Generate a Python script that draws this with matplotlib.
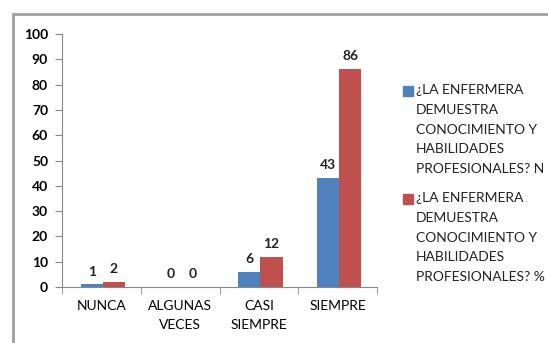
import matplotlib.pyplot as plt
from matplotlib.patches import Rectangle
import numpy as np

categorias = ['NUNCA', 'ALGUNAS\nVECES', 'CASI\nSIEMPRE', 'SIEMPRE']
valores_n = [1, 0, 6, 43]
valores_pct = [2, 0, 12, 86]
series = ['¿LA ENFERMERA\nDEMUESTRA\nCONOCIMIENTO Y\nHABILIDADES\nPROFESIONALES? N',
          '¿LA ENFERMERA\nDEMUESTRA\nCONOCIMIENTO Y\nHABILIDADES\nPROFESIONALES? %']
colores = ['#4F81BD', '#C0504D']

W, H = 548, 343
plt.rcParams['font.family'] = ['Lato', 'DejaVu Sans']
fs = 10
gris = '#868686'

fig = plt.figure(figsize=(W / 100, H / 100), dpi=100)

def fx(x):
    return x / W

def fy(y):
    return 1 - y / H

# marco exterior del grafico
fig.patches.append(Rectangle((fx(13), fy(400)), fx(600), fy(14) - fy(400),
                             transform=fig.transFigure, fill=False,
                             edgecolor='#A0A0A0', linewidth=2))

ax = fig.add_axes([fx(62), fy(287), fx(377) - fx(62), fy(34) - fy(287)])
x = np.arange(len(categorias))
ancho = 0.28
for i, (vals, col) in enumerate(zip([valores_n, valores_pct], colores)):
    pos = x + (i - 0.5) * ancho + 0.02
    barras = ax.bar(pos, vals, ancho, color=col)
    for b, v in zip(barras, vals):
        ax.annotate(str(v), (b.get_x() + b.get_width() / 2, v),
                    xytext=(0, 5), textcoords='offset points',
                    ha='center', va='bottom', fontsize=fs,
                    fontweight='bold', color='#222222')

ax.set_xlim(-0.5, len(categorias) - 0.5)
ax.set_ylim(0, 100)
ax.set_yticks(range(0, 101, 10))
ax.tick_params(axis='y', labelsize=fs, length=5, color=gris, pad=5)
for t in ax.get_yticklabels():
    t.set_fontweight('bold')
ax.set_xticks(x)
ax.set_xticklabels(categorias, fontsize=fs, linespacing=1.75)
ax.tick_params(axis='x', length=0, pad=9)
# marcas entre categorias
ax.set_xticks(np.arange(-0.5, len(categorias), 1), minor=True)
ax.tick_params(axis='x', which='minor', length=5, color=gris)
for s in ['top', 'right']:
    ax.spines[s].set_visible(False)
for s in ['left', 'bottom']:
    ax.spines[s].set_color(gris)

# leyenda
tops = [85, 193]
for txt, col, top in zip(series, colores, tops):
    fig.patches.append(Rectangle((fx(403), fy(top + 11)), fx(10), fy(top + 1) - fy(top + 11),
                                 transform=fig.transFigure, color=col))
    fig.text(fx(416), fy(top - 1), txt, fontsize=fs, va='top', ha='left',
             linespacing=1.78, color='#222222')

fig.savefig('out.png', dpi=100)
